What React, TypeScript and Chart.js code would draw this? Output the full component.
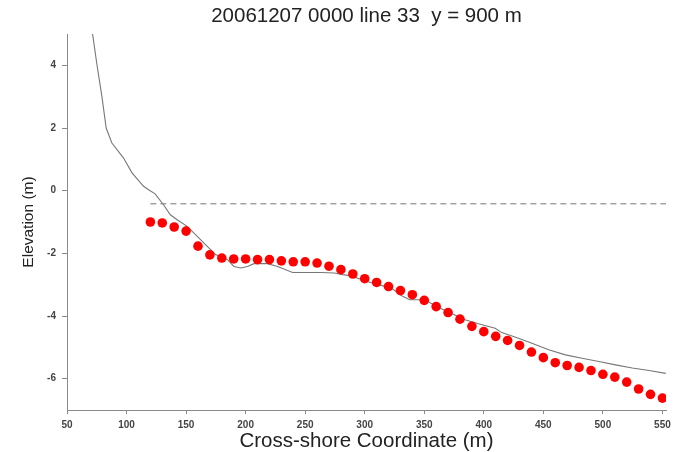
import { useEffect, useRef } from "react";
import { Chart, registerables } from "chart.js";

Chart.register(...registerables);

// Labels
const TITLE = "20061207 0000 line 33  y = 900 m";
const X_LABEL = "Cross-shore Coordinate (m)";
const Y_LABEL = "Elevation (m)";

// Axis ticks
const xTicks = [50, 100, 150, 200, 250, 300, 350, 400, 450, 500, 550];
const yTicks = [-6, -4, -2, 0, 2, 4];

// Surveyed points (red dots)
const surveyX = [
  120, 130, 140, 150, 160, 170, 180, 190, 200, 210, 220, 230, 240, 250, 260,
  270, 280, 290, 300, 310, 320, 330, 340, 350, 360, 370, 380, 390, 400, 410,
  420, 430, 440, 450, 460, 470, 480, 490, 500, 510, 520, 530, 540, 550,
];
const surveyZ = [
  -1.0, -1.03, -1.16, -1.29, -1.77, -2.05, -2.15, -2.18, -2.18, -2.2, -2.2,
  -2.24, -2.27, -2.27, -2.31, -2.41, -2.52, -2.66, -2.81, -2.93, -3.06, -3.19,
  -3.32, -3.5, -3.7, -3.89, -4.1, -4.33, -4.5, -4.65, -4.78, -4.94, -5.15,
  -5.33, -5.49, -5.58, -5.64, -5.74, -5.86, -5.95, -6.11, -6.33, -6.5, -6.62,
];

// Reference profile (grey line)
const profileX = [
  71.3, 75, 79.3, 82.9, 87.7, 97.5, 104.6, 114.3, 118.5, 124, 131, 136.8,
  142.5, 150.9, 159.4, 167.8, 174.8, 184.7, 190.2, 195.9, 201.5, 207.1, 218.4,
  226.8, 239.5, 252, 263.3, 274.5, 281.6, 288.6, 301.9, 322.3, 332.2, 337.8,
  350.4, 361.7, 384.2, 395.4, 409.5, 415.1, 429.2, 440.4, 454.5, 468.5, 482.5,
  496.6, 510.6, 524.7, 538.8, 552.8,
];
const profileZ = [
  5.05, 4.06, 3.01, 2.0, 1.52, 1.04, 0.57, 0.14, 0.03, -0.1, -0.45, -0.77,
  -0.93, -1.14, -1.46, -1.78, -2.04, -2.2, -2.42, -2.47, -2.42, -2.33, -2.33,
  -2.42, -2.61, -2.61, -2.61, -2.63, -2.68, -2.72, -2.9, -3.11, -3.38, -3.48,
  -3.48, -3.72, -4.12, -4.25, -4.39, -4.53, -4.71, -4.87, -5.08, -5.24, -5.35,
  -5.45, -5.56, -5.66, -5.74, -5.83,
];

// Water level (dashed)
const waterX = [120, 553];
const waterZ = [-0.42, -0.42];

const FONT = "'Liberation Sans', Arial, Helvetica, sans-serif";
const AXIS_GREY = "#8a8a8a";

const toPoints = (xs: number[], ys: number[]) =>
  xs.map((x, i) => ({ x, y: ys[i] }));

export default function App() {
  const canvasRef = useRef<HTMLCanvasElement | null>(null);

  useEffect(() => {
    const canvas = canvasRef.current;
    if (!canvas) return;

    const chart = new Chart(canvas, {
      type: "scatter",
      data: {
        datasets: [
          {
            label: "survey",
            data: toPoints(surveyX, surveyZ),
            backgroundColor: "#ff0000",
            borderColor: "#ff0000",
            borderWidth: 0,
            pointRadius: 4.8,
            showLine: false,
          },
          {
            label: "profile",
            data: toPoints(profileX, profileZ),
            borderColor: "#777777",
            borderWidth: 1.1,
            pointRadius: 0,
            showLine: true,
            tension: 0,
          },
          {
            label: "water level",
            data: toPoints(waterX, waterZ),
            borderColor: "#777777",
            borderWidth: 1,
            borderDash: [6, 4],
            pointRadius: 0,
            showLine: true,
          },
        ],
      },
      options: {
        responsive: false,
        animation: false,
        events: [],
        layout: { padding: { left: 0, right: 15, top: 0, bottom: 0 } },
        plugins: {
          legend: { display: false },
          tooltip: { enabled: false },
          title: {
            display: true,
            text: TITLE,
            fullSize: false,
            color: "#222222",
            font: { family: FONT, size: 20.5, weight: "normal", lineHeight: 1 },
            padding: { top: 6, bottom: 7.5 },
          },
        },
        scales: {
          x: {
            type: "linear",
            min: 50,
            max: 553,
            afterBuildTicks: (scale: any) => {
              scale.ticks = xTicks.map((v) => ({ value: v }));
            },
            afterFit: (scale: any) => {
              scale.height = 42;
            },
            grid: {
              drawOnChartArea: false,
              drawTicks: true,
              tickLength: 4,
              color: AXIS_GREY,
              lineWidth: 1,
            },
            border: { display: true, color: AXIS_GREY, width: 1 },
            ticks: {
              padding: 5,
              color: "#444444",
              maxRotation: 0,
              autoSkip: false,
              font: { family: FONT, size: 10, weight: "bold" },
            },
            title: {
              display: true,
              text: X_LABEL,
              color: "#222222",
              font: { family: FONT, size: 20.5, lineHeight: 1 },
              padding: { top: 0, bottom: 0 },
            },
          },
          y: {
            type: "linear",
            min: -7,
            max: 5,
            afterBuildTicks: (scale: any) => {
              scale.ticks = yTicks.map((v) => ({ value: v }));
            },
            afterFit: (scale: any) => {
              scale.width = 67;
            },
            grid: {
              drawOnChartArea: false,
              drawTicks: true,
              tickLength: 5,
              color: AXIS_GREY,
              lineWidth: 1,
            },
            border: { display: true, color: AXIS_GREY, width: 1 },
            ticks: {
              padding: 6,
              color: "#444444",
              autoSkip: false,
              font: { family: FONT, size: 10, weight: "bold" },
            },
            title: {
              display: true,
              text: Y_LABEL,
              color: "#222222",
              font: { family: FONT, size: 15.5, lineHeight: 1 },
              padding: { top: 20.5, bottom: 0 },
            },
          },
        },
      },
    });

    return () => chart.destroy();
  }, []);

  return (
    <div
      style={{
        position: "absolute",
        left: 0,
        top: 0,
        width: 681,
        height: 452,
        background: "#ffffff",
      }}
    >
      <canvas ref={canvasRef} width={681} height={452} />
    </div>
  );
}
